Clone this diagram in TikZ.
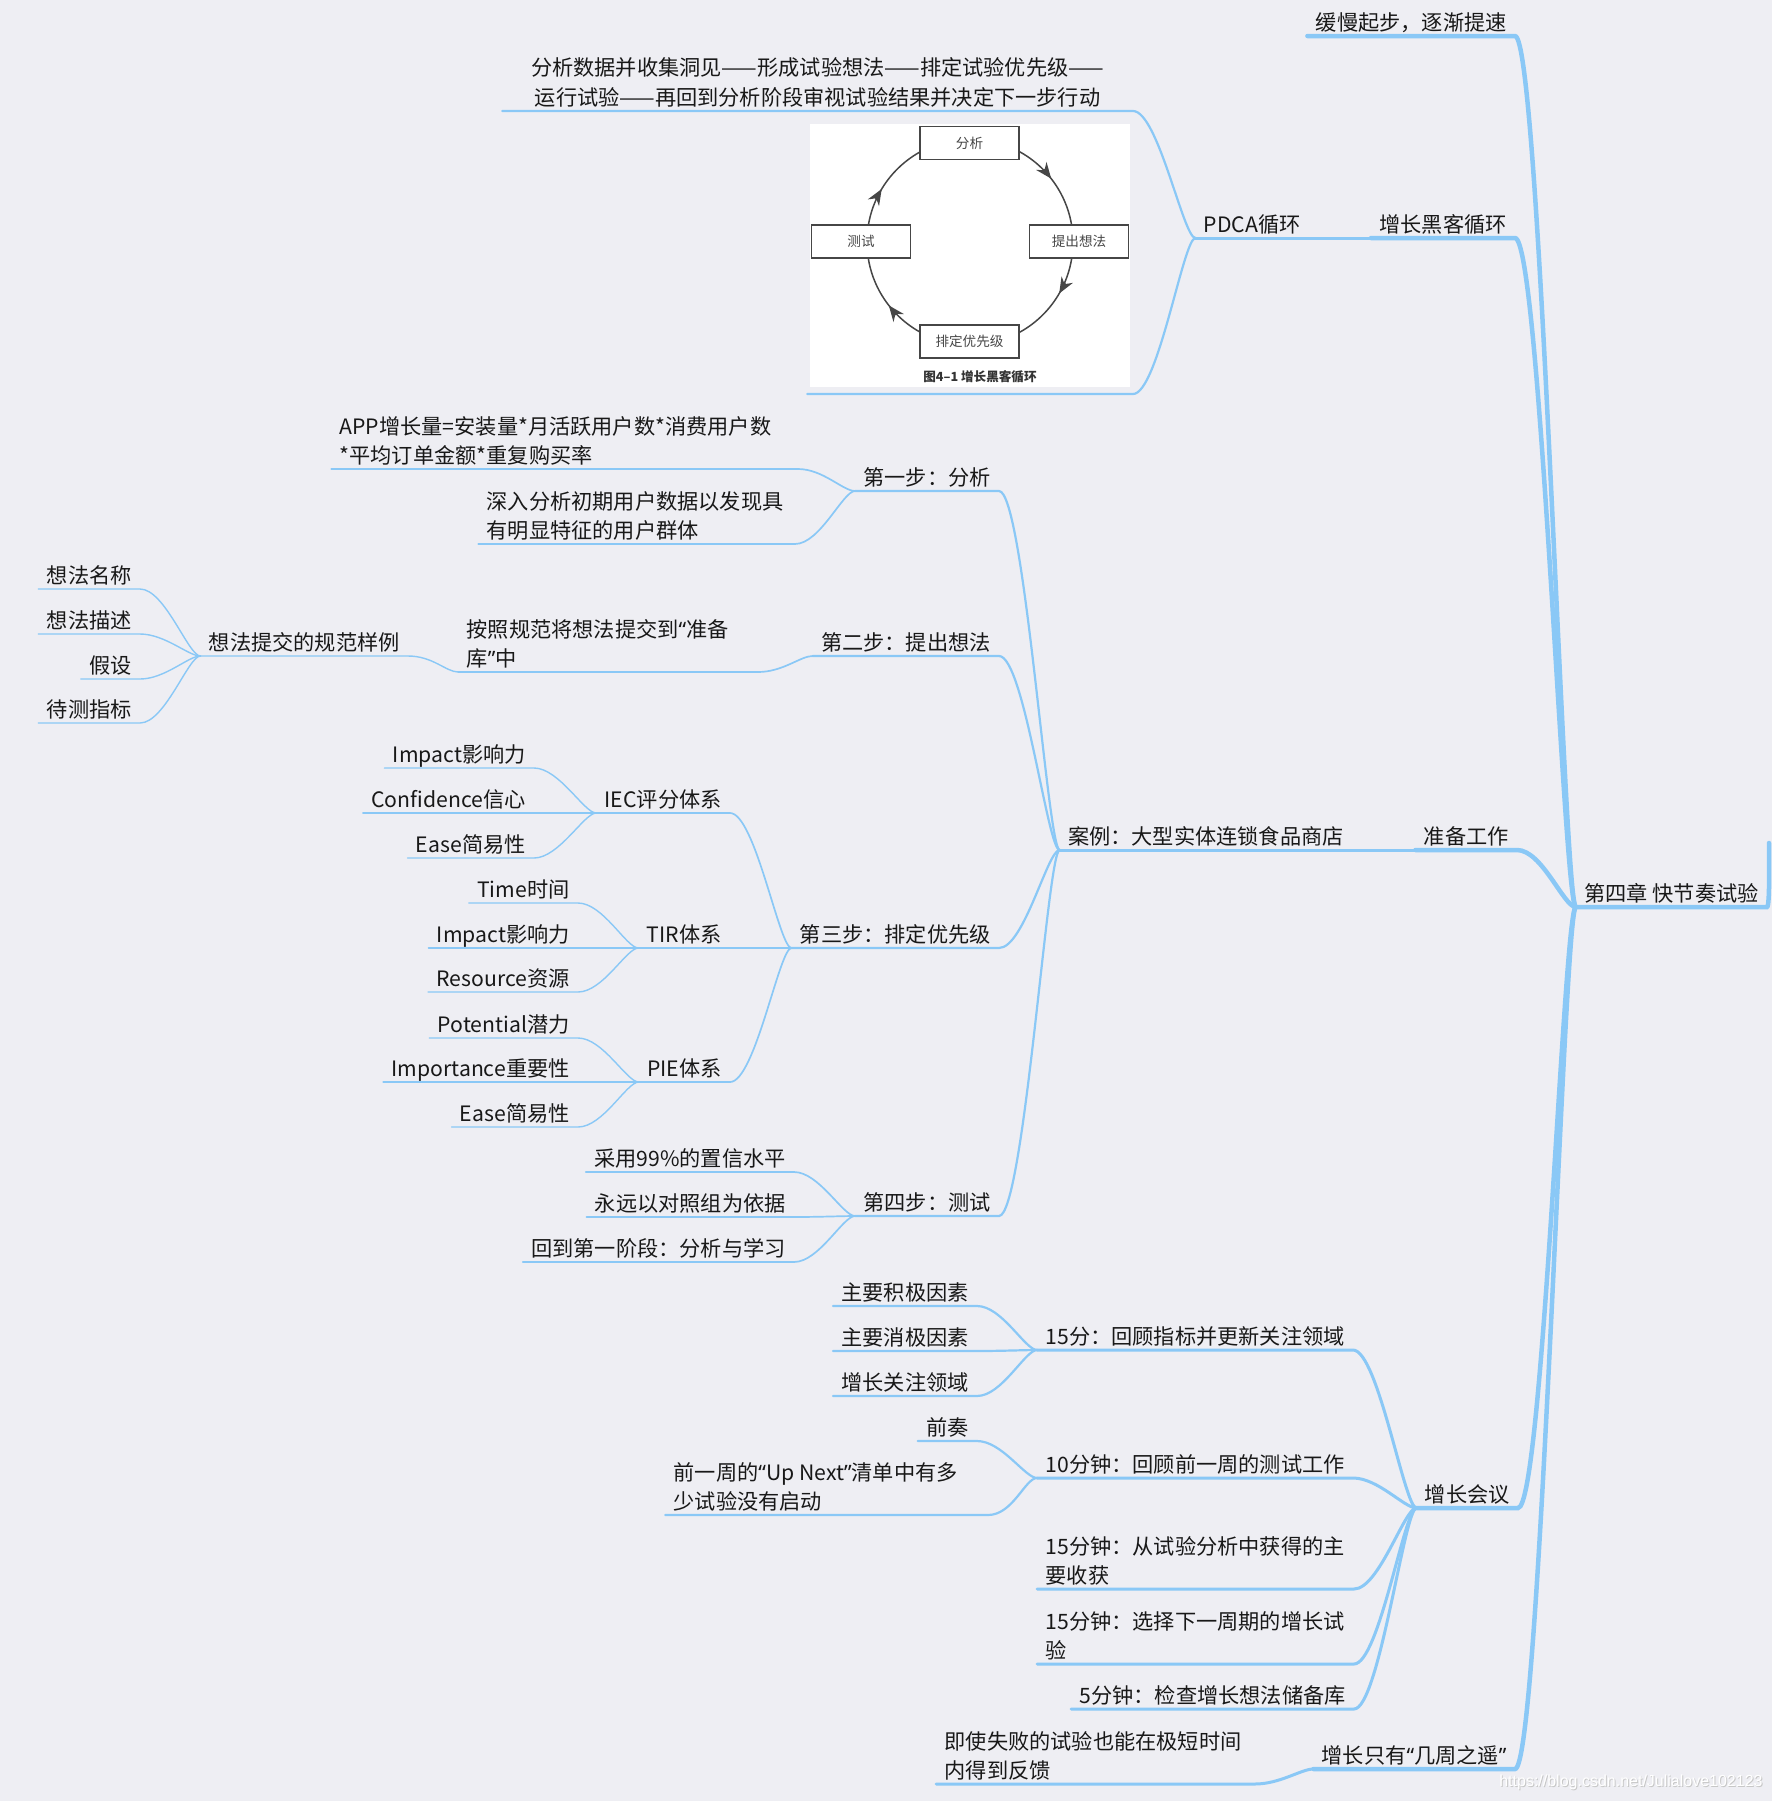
\documentclass[tikz,border=0pt]{standalone}
\usepackage{fontspec}
\setmainfont{Noto Sans CJK SC}
\newfontfamily\wmfont{Liberation Sans}
\newfontfamily\qfont{Noto Sans}
\newcommand\qopen{{\qfont “}}
\newcommand\qclose{{\qfont ”}}
\newcommand\mlines[2]{\parbox[b]{#1}{\raggedright #2}}
\newcommand\mlinesc[2]{\parbox[b]{#1}{\centering #2}}
\usetikzlibrary{arrows.meta}
\definecolor{bg}{RGB}{238,238,243}
\definecolor{ln}{RGB}{138,200,246}
\definecolor{txt}{RGB}{24,24,24}
\definecolor{imggray}{RGB}{70,70,70}
\begin{document}
\begin{tikzpicture}[x=0.5pt,y=-0.5pt,
  every node/.style={font=\fontsize{10.6pt}{14.5pt}\selectfont, text=txt},
  topic/.style={anchor=south east, inner xsep=4pt, inner ysep=2.75pt, text depth=0pt},
  w1/.style={draw=ln, line width=2.25pt, line cap=round},
  w2/.style={draw=ln, line width=1.5pt, line cap=round},
  w3/.style={draw=ln, line width=1.1pt, line cap=round},
  w4/.style={draw=ln, line width=0.85pt, line cap=round},
  w5/.style={draw=ln, line width=0.7pt, line cap=round},
  link/.style={to path={.. controls +(25,0) and +(-12,0) .. (\tikztotarget)}},
  pbox/.style={draw=imggray, fill=white, line width=0.7pt, minimum width=49.5pt, minimum height=16.5pt, inner sep=0pt, font=\fontsize{6.8pt}{8pt}\selectfont, text=imggray},
  imgarrow/.style={draw=imggray, line width=0.75pt, -{Stealth[length=8pt,width=6.5pt]}},
]
\fill[bg] (0,0) rectangle (1772,1801);
\useasboundingbox (0,0) rectangle (1772,1801);

% ---------- root ----------
\node[topic] (root) at (1767,907) {第四章 快节奏试验};
\coordinate (edge) at (1769,843);

% ---------- level 1 ----------
\node[topic] (a1) at (1515,36) {缓慢起步，逐渐提速};
\node[topic] (a2) at (1515,238) {增长黑客循环};
\node[topic] (a3) at (1517,850) {准备工作};
\node[topic] (a4) at (1518,1508) {增长会议};
\node[topic] (a5) at (1515,1769) {增长只有\qopen 几周之遥\qclose};

% ---------- level 2 ----------
\node[topic] (pdca) at (1309,238) {PDCA循环};
\node[topic] (case) at (1352,850) {案例：大型实体连锁食品商店};
\node[topic] (m1) at (1353,1350) {15分：回顾指标并更新关注领域};
\node[topic] (m2) at (1353,1478) {10分钟：回顾前一周的测试工作};
\node[topic] (m3) at (1354,1589) {\mlines{150pt}{15分钟：从试验分析中获得的主\\要收获}};
\node[topic] (m4) at (1354,1664) {\mlines{150pt}{15分钟：选择下一周期的增长试\\验}};
\node[topic] (m5) at (1354,1709) {5分钟：检查增长想法储备库};
\node[topic] (fb) at (1255,1784) {\mlines{151pt}{即使失败的试验也能在极短时间\\内得到反馈}};

% ---------- PDCA children ----------
\node[topic, inner xsep=8pt, font=\fontsize{10.6pt}{15pt}\selectfont] (pd1) at (1133,111) {\mlinesc{299pt}{分析数据并收集洞见——形成试验想法——排定试验优先级——\\运行试验——再回到分析阶段审视试验结果并决定下一步行动}};
\node[anchor=south east, minimum width=162.5pt, minimum height=135pt, inner sep=0pt] (imgT) at (1133,394) {};

% image content
\fill[white] (810,124) rectangle (1130,387);
\draw[imggray, line width=0.75pt] (970,242) circle[radius=103];
\draw[imgarrow] (1043.8,169.1) -- (1051.2,178.6);
\draw[imgarrow] (1065.2,283.1) -- (1059.2,293.5);
\draw[imgarrow] (896.2,314.9) -- (888.8,305.4);
\draw[imgarrow] (875.5,199.3) -- (881.7,189.0);
\node[pbox] (bA) at (969.5,143) {分析};
\node[pbox] (bB) at (1079,241.5) {提出想法};
\node[pbox] (bC) at (969.5,341.5) {排定优先级};
\node[pbox] (bD) at (861,241.5) {测试};
\node[font=\bfseries\fontsize{6.3pt}{8pt}\selectfont, text=black!80] (cap) at (980,377) {图4–1 增长黑客循环};

% ---------- case children ----------
\node[topic] (s1) at (999,491) {第一步：分析};
\node[topic] (s2) at (999,656) {第二步：提出想法};
\node[topic] (s3) at (999,948) {第三步：排定优先级};
\node[topic] (s4) at (999,1216) {第四步：测试};

\node[topic] (s1a) at (798,469) {\mlines{225pt}{APP增长量=安装量*月活跃用户数*消费用户数\\{}*平均订单金额*重复购买率}};
\node[topic] (s1b) at (795,544) {\mlines{150pt}{深入分析初期用户数据以发现具\\有明显特征的用户群体}};

\node[topic] (s2a) at (758,672) {\mlines{141.5pt}{按照规范将想法提交到\qopen 准备\\库\qclose 中}};
\node[topic] (idea) at (408,656) {想法提交的规范样例};
\node[topic] (i1) at (140,589) {想法名称};
\node[topic] (i2) at (140,634) {想法描述};
\node[topic] (i3) at (140,679) {假设};
\node[topic] (i4) at (140,723) {待测指标};

\node[topic] (iec) at (730,813) {IEC评分体系};
\node[topic] (tir) at (730,948) {TIR体系};
\node[topic] (pie) at (730,1082) {PIE体系};
\node[topic] (iec1) at (534,768) {Impact影响力};
\node[topic] (iec2) at (534,813) {Confidence信心};
\node[topic] (iec3) at (534,858) {Ease简易性};
\node[topic] (tir1) at (578,903) {Time时间};
\node[topic] (tir2) at (578,948) {Impact影响力};
\node[topic] (tir3) at (578,992) {Resource资源};
\node[topic] (pie1) at (578,1038) {Potential潜力};
\node[topic] (pie2) at (578,1082) {Importance重要性};
\node[topic] (pie3) at (578,1127) {Ease简易性};

\node[topic] (s4a) at (794,1172) {采用99\%的置信水平};
\node[topic] (s4b) at (794,1217) {永远以对照组为依据};
\node[topic] (s4c) at (794,1262) {回到第一阶段：分析与学习};

% ---------- meeting children ----------
\node[topic] (m1a) at (977,1306) {主要积极因素};
\node[topic] (m1b) at (977,1351) {主要消极因素};
\node[topic] (m1c) at (977,1396) {增长关注领域};
\node[topic] (m2a) at (977,1441) {前奏};
\node[topic] (m2b) at (988,1515) {\mlines{153pt}{前一周的\qopen Up~Next\qclose 清单中有多\\少试验没有启动}};

% ---------- watermark ----------
\node[font=\wmfont\fontsize{8pt}{9pt}\selectfont, text=black!22, anchor=east, inner sep=0pt] (wm0) at (1764,1783) {https://blog.csdn.net/Julialove102123};
\node[font=\wmfont\fontsize{8pt}{9pt}\selectfont, text=white, anchor=east, inner sep=0pt] (wm) at (1763,1782) {https://blog.csdn.net/Julialove102123};

% ---------- connectors ----------
\draw[w1] (root.south west) -- (root.south east) .. controls +(3,0) and +(0,14) .. (edge);
\foreach \n in {a1,a2,a3,a4,a5}
  \draw[w1] (\n.south west) -- (\n.south east) to[link] (root.south west);

\draw[w2] (pdca.south west) -- (pdca.south east) to[link] (a2.south west);
\draw[w2] (case.south west) -- (case.south east) to[link] (a3.south west);
\foreach \n in {m1,m2,m3,m4,m5}
  \draw[w2] (\n.south west) -- (\n.south east) to[link] (a4.south west);
\draw[w2] (fb.south west) -- (fb.south east) to[link] (a5.south west);

\foreach \n in {pd1,imgT}
  \draw[w3] (\n.south west) -- (\n.south east) to[link] (pdca.south west);
\foreach \n in {s1,s2,s3,s4}
  \draw[w3] (\n.south west) -- (\n.south east) to[link] (case.south west);
\foreach \n in {m1a,m1b,m1c}
  \draw[w3] (\n.south west) -- (\n.south east) to[link] (m1.south west);
\foreach \n in {m2a,m2b}
  \draw[w3] (\n.south west) -- (\n.south east) to[link] (m2.south west);

\foreach \n in {s1a,s1b}
  \draw[w4] (\n.south west) -- (\n.south east) to[link] (s1.south west);
\draw[w4] (s2a.south west) -- (s2a.south east) to[link] (s2.south west);
\foreach \n in {iec,tir,pie}
  \draw[w4] (\n.south west) -- (\n.south east) to[link] (s3.south west);
\foreach \n in {s4a,s4b,s4c}
  \draw[w4] (\n.south west) -- (\n.south east) to[link] (s4.south west);

\draw[w5] (idea.south west) -- (idea.south east) to[link] (s2a.south west);
\foreach \n in {i1,i2,i3,i4}
  \draw[w5] (\n.south west) -- (\n.south east) to[link] (idea.south west);
\foreach \n in {iec1,iec2,iec3}
  \draw[w5] (\n.south west) -- (\n.south east) to[link] (iec.south west);
\foreach \n in {tir1,tir2,tir3}
  \draw[w5] (\n.south west) -- (\n.south east) to[link] (tir.south west);
\foreach \n in {pie1,pie2,pie3}
  \draw[w5] (\n.south west) -- (\n.south east) to[link] (pie.south west);
\end{tikzpicture}
\end{document}
